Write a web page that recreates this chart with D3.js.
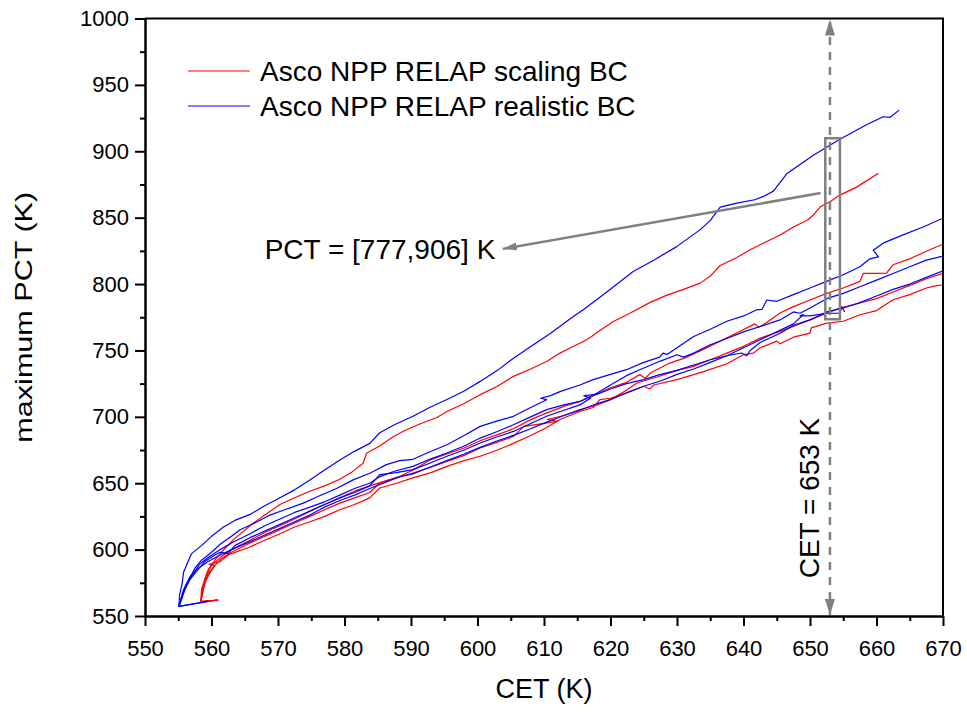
<!DOCTYPE html>
<html>
<head>
<meta charset="utf-8">
<script src="https://cdn.jsdelivr.net/npm/d3@7"></script>
<style>
    body { margin: 0; background: #fff; }
    text { font-family: 'Liberation Sans', Arial, sans-serif; fill: #000; }
</style>
</head>
<body>
<div id="chart"></div>
<script>
'use strict';

// Axis ticks
const xTicks = d3.range(550, 671, 10);
const xMinorTicks = d3.range(555, 670, 10);
const yTicks = d3.range(550, 1001, 50);
const yMinorTicks = d3.range(575, 1000, 50);

const legendLabels = ['Asco NPP RELAP scaling BC', 'Asco NPP RELAP realistic BC'];

// Annotations (data units)
const cetValue = 653;
const pctLabel = 'PCT = [777,906] K';
const pctBox = { x0: 652.3, x1: 654.5, y0: 773.5, y1: 909.8 };
const pctArrow = { from: [651.6, 868.5], to: [603.8, 826.5] };
const pctLabelPos = [568.0, 819];

// Scaling BC runs (red): [CET, max PCT]
const scalingRun1 = [[561,562],[558.4,560.8],[558.5,570],[559,578],[559.5,585],[560.5,592],[561.5,598],[563.3,607.5],[566.3,620],[568,626],[570.3,634],[572.5,639],[574.8,644],[577,648],[579.3,653],[581,658],[582.8,665],[583.3,672.5],[585.3,678],[587.3,685],[589.3,690.3],[591.5,695],[593.9,699.5],[595.4,704],[598,710],[600.4,716.7],[603,723],[605.4,730.5],[608,736],[610.4,741.7],[612.4,748],[614,752],[615.9,756.8],[617,760],[618.4,765],[620.5,772],[622.9,778],[625.9,786],[628.4,791.5],[631,796],[633.5,800.7],[635,806],[636.5,814],[639,820],[641,825.8],[643.5,832],[645.5,837],[647.5,843],[649.7,848.4],[650.5,852],[651.5,858],[653,862],[654.5,867],[657,873],[660.3,883.5]];
const scalingRun2 = [[561,562],[558.4,560.8],[558.6,570],[559.2,580],[560,588],[561.3,594],[563,600],[565.8,607],[568,613],[570.3,618],[572.5,623],[574.8,629],[577,634],[579.3,639],[581.5,644],[583.8,648],[586.3,652],[588.3,655],[590.3,660],[593,667.8],[595.4,672],[598,676.5],[600.4,682],[603,686.6],[605.4,691],[608,697.9],[610.4,703],[613,707.9],[615.4,711.6],[617.5,716],[619.9,721.7],[622.4,726],[624.4,731.8],[625.2,729],[626,733],[628.9,740.5],[631,744],[633.9,750.6],[636.5,757],[639.5,764.4],[641.7,770],[642.3,767.5],[643.5,771],[645.5,778.2],[647.5,783],[650,788],[652.5,793],[655,797],[657.5,802],[658,808],[660,808],[661.5,808.2],[662.5,814.5],[665,819],[668,825.8],[670,830]];
const scalingRun3 = [[561,562],[558.4,560.8],[558.8,572],[559.5,582],[560.5,588],[561.3,592.5],[563,598],[565.8,605],[568,610],[570.3,615],[572.5,620],[574.8,625],[577,630],[579.3,635],[581.5,639],[583.8,643],[585.3,650.2],[587.8,654],[590.3,657.7],[593,662],[595.4,666.5],[598,671],[600.4,676.5],[603,681],[605.4,685.3],[607,692.8],[612,696.6],[610.5,698],[613,701],[615.4,705.4],[618,709],[620,713],[622.4,720],[624,725.5],[627,730],[630,735],[632.5,738],[635,743],[637.5,748],[640,753.1],[642.5,759.3],[645.5,764.4],[647.5,768.1],[650,773],[652.5,778],[654.5,781.9],[657.5,785.7],[660,789],[662.5,794],[665,799],[667.5,804],[670,808]];
const scalingRun4 = [[561,562],[558.4,560.8],[559,575],[559.8,583],[560.5,588],[559.6,589],[561.3,591],[562.5,596],[565.8,602],[568,607],[570.3,612],[572.5,617],[574.8,621],[577,625],[579.3,630],[581.5,634],[583.8,639],[585.3,646.4],[587.8,650],[590.3,654],[593,658],[595.4,662.7],[598,667],[600.4,670.3],[603,675],[605.4,680],[608,686],[610.4,692],[612.4,698],[615.4,704],[617.4,707],[618.4,713],[620,714],[622.4,718],[625,723],[625.9,721],[626.5,724],[630,728],[634,734],[637.5,740],[640,746.8],[641.5,748],[642.5,752],[645,757],[645.5,755],[647.5,760],[650,763.1],[650.2,767],[652.5,770.6],[655,772],[657.5,776.9],[660,780],[662.5,788.2],[665,792],[667.5,797],[668.5,798.2],[670,799.5]];

// Realistic BC runs (blue): [CET, max PCT]
const realisticRun1 = [[559.5,561],[555.1,557.2],[555.2,566],[555.6,575],[555.8,583],[556.3,589],[557,597],[558.5,603],[560,610],[561.8,617],[563.5,622],[565.8,626.5],[568,633],[570.3,639],[572.5,645],[574.8,652.5],[577,660],[579.3,667.5],[581.5,674],[583.8,680],[585.3,688],[587.5,694],[590.3,700.4],[592.8,707],[595.4,713],[598,719.5],[600.4,726.7],[603,735],[605.1,743],[608,753],[611,763],[614,774],[616,781],[618.4,790],[621,800],[623.4,809.5],[626.5,818],[629.9,828],[633.5,841],[635,848],[636.5,858],[639,861],[641.7,863.5],[643,866],[644.5,870],[646.5,883],[648.5,890],[650.5,897],[654.5,909],[658.5,920],[661,926],[662,925.5],[663.4,931]];
const realisticRun2 = [[555.1,557.2],[555.6,566],[556.5,576],[557.5,586],[558.5,592],[560,598],[561.3,604],[563,610],[564.3,615],[566.5,620],[568.8,626],[571,630],[573.8,635],[576,640],[578.8,646],[581.3,652.5],[583.8,657.5],[586.3,664],[588.3,667],[590.3,668],[592.5,673],[595.4,679],[598,686],[600.4,692.8],[603,697],[605.4,700.4],[608,707],[610.4,712.9],[609.5,714],[611,716],[612.4,719],[615.4,724],[617.4,728],[620,732],[622.4,735.5],[625,741],[627.4,745],[627.9,748],[628.5,747],[630,752],[632.5,760.5],[635,766],[637.5,772],[640,776],[642,780.6],[642.8,781],[643.5,788],[645,787],[647.5,792],[650,797],[652.5,802],[655,807],[657.5,813],[659,819],[660.3,820.5],[659.5,825.5],[661,830.8],[664,837],[667,843],[670,849.6]];
const realisticRun3 = [[555.1,557.2],[556,570],[557,580],[558.2,589],[559.5,594],[561.3,600],[563,605],[565.8,612],[568,618],[570.3,623],[572.5,628],[574.8,632],[577,636],[579.3,641],[581.5,646],[583.8,650],[585.3,655],[587.5,659],[590.3,662.7],[592.8,668],[595.4,672.8],[598,678],[600.4,684],[603,689],[605.4,694],[608,700],[610.4,705.4],[613,709],[615.4,711.6],[618,718],[620,724],[622.4,731],[624.4,735.5],[627.5,742],[630,746.8],[631,745],[632.5,748],[635,754.3],[637.5,759],[640,764],[642.5,768],[645.5,773],[647.5,779],[648.5,778],[650,782],[652.5,789],[655,793],[657.5,798],[660,803],[662.5,808],[665,813],[667.5,818],[670,821]];
const realisticRun4 = [[555.1,557.2],[556.2,574],[557.8,584],[559,591],[560.5,596],[561.3,598],[562.5,597],[563.5,603],[565.8,609],[568,614],[570.3,619],[572.5,624],[574.8,629],[577,634],[579.3,639],[581.5,643],[583.8,648],[585.3,656.5],[587.8,658],[590.3,660.2],[592.8,665],[595.4,670.3],[598,675],[600.4,680.3],[603,685],[605.4,689],[608,695],[610.4,700.4],[613,705],[615.4,709],[617,714],[616,716],[618,717],[620,721],[622.4,725],[625,728],[627.4,731.8],[630,735],[632.5,739],[635,743],[637.5,746],[639.7,748.1],[640.5,746],[641,750],[642.5,756],[645.5,763],[647.5,769],[650,773],[652.5,779],[655,782],[657.5,786],[660,791],[662.5,796],[665,800],[667.5,805],[670,810]];
const realisticRun5 = [[559.5,561],[555.1,557.2],[555.8,570],[556.8,580],[558,586],[559.5,591],[561.3,596],[563,600],[565.8,606],[568,611],[570.3,616],[572.5,621],[574.8,626],[577,632],[579.3,637],[581.5,641],[583.8,646],[586.3,651],[588.3,655],[590.3,657],[592.8,662],[595.4,667],[598,672],[600.4,677],[603,682],[605.4,686],[608,691],[610.4,696],[613,701],[615.4,705],[618,710],[620,713],[622.4,718],[625,723],[627.5,727],[630,732],[632.5,736],[635,741],[637.5,746],[640,752],[642.5,758],[645,764],[647.5,770],[649,777],[648.5,776],[650,776],[652.5,778],[654.5,778],[654.8,783],[655.2,779]];

const scalingRuns = [scalingRun1, scalingRun2, scalingRun3, scalingRun4];
const realisticRuns = [realisticRun1, realisticRun2, realisticRun3, realisticRun4, realisticRun5];

const colors = { scaling: '#ff0000', realistic: '#0000ff', note: '#808080' };

const width = 967, height = 713;
const margins = { top: 18.5, right: 24, bottom: 97, left: 145 };

const svg = d3.select('#chart').append('svg')
    .attr('width', width)
    .attr('height', height);

const x = d3.scaleLinear()
    .domain([550, 670])
    .range([margins.left, width - margins.right]);

const y = d3.scaleLinear()
    .domain([550, 1000])
    .range([height - margins.bottom, margins.top]);

const defs = svg.append('defs');

defs.append('clipPath').attr('id', 'plot-clip')
    .append('rect')
    .attr('x', x(550)).attr('y', y(1000))
    .attr('width', x(670) - x(550)).attr('height', y(550) - y(1000));

// Arrow heads for the gray annotations
const addMarker = (id, len, wid) => {
    defs.append('marker')
        .attr('id', id)
        .attr('viewBox', `0 0 ${len} ${wid}`)
        .attr('refX', len).attr('refY', wid / 2)
        .attr('markerUnits', 'userSpaceOnUse')
        .attr('markerWidth', len).attr('markerHeight', wid)
        .attr('orient', 'auto-start-reverse')
        .append('path')
        .attr('d', `M0,0L${len},${wid / 2}L0,${wid}Z`)
        .attr('fill', colors.note);
};
addMarker('arrow-cet', 16, 10);
addMarker('arrow-pct', 14, 8);

// Curves
const line = d3.line()
    .x(d => x(d[0]))
    .y(d => y(d[1]));

const curves = svg.append('g').attr('clip-path', 'url(#plot-clip)');

curves.selectAll('path.scaling')
    .data(scalingRuns)
    .join('path')
    .classed('scaling', true)
    .attr('d', line)
    .attr('fill', 'none')
    .attr('stroke', colors.scaling)
    .attr('stroke-width', 1.2)
    .attr('stroke-linejoin', 'round');

curves.selectAll('path.realistic')
    .data(realisticRuns)
    .join('path')
    .classed('realistic', true)
    .attr('d', line)
    .attr('fill', 'none')
    .attr('stroke', colors.realistic)
    .attr('stroke-width', 1.2)
    .attr('stroke-linejoin', 'round');

// Axes
const styleAxis = g => {
    g.select('.domain').attr('stroke', '#000').attr('stroke-width', 2);
    g.selectAll('.tick line').attr('stroke', '#000').attr('stroke-width', 2);
    g.selectAll('.tick text')
        .style('font-family', "'Liberation Sans', Arial, sans-serif")
        .style('font-size', '22px')
        .attr('fill', '#000');
};

svg.append('g')
    .attr('transform', `translate(0, ${y(550)})`)
    .call(d3.axisBottom(x).tickValues(xMinorTicks).tickSize(5).tickSizeOuter(0).tickFormat(''))
    .call(styleAxis);

svg.append('g')
    .attr('transform', `translate(0, ${y(550)})`)
    .call(d3.axisBottom(x).tickValues(xTicks).tickSize(10).tickSizeOuter(0).tickPadding(14).tickFormat(d3.format('d')))
    .call(styleAxis);

svg.append('g')
    .attr('transform', `translate(${x(550)}, 0)`)
    .call(d3.axisLeft(y).tickValues(yMinorTicks).tickSize(5).tickSizeOuter(0).tickFormat(''))
    .call(styleAxis);

svg.append('g')
    .attr('transform', `translate(${x(550)}, 0)`)
    .call(d3.axisLeft(y).tickValues(yTicks).tickSize(10).tickSizeOuter(0).tickPadding(6).tickFormat(d3.format('d')))
    .call(styleAxis);

// Top and right frame
svg.append('path')
    .attr('d', `M${x(550)},${y(1000)}H${x(670)}V${y(550)}`)
    .attr('fill', 'none')
    .attr('stroke', '#000')
    .attr('stroke-width', 2);

// Axis titles
svg.append('text')
    .attr('x', (x(550) + x(670)) / 2)
    .attr('y', 698)
    .attr('text-anchor', 'middle')
    .style('font-size', '27px')
    .text('CET (K)');

// the y title is drawn narrow and long in the source, so stretch it along its length
svg.append('text')
    .attr('transform', `translate(32, ${(y(550) + y(1000)) / 2}) rotate(-90) scale(1.33, 1)`)
    .attr('text-anchor', 'middle')
    .style('font-size', '23px')
    .text('maximum PCT (K)');

// Legend
const legend = svg.append('g');
const legendItems = legend.selectAll('g')
    .data(legendLabels.map((label, i) => ({ label, color: i === 0 ? colors.scaling : colors.realistic })))
    .join('g')
    .attr('transform', (d, i) => `translate(188, ${71 + i * 35})`);

legendItems.append('line')
    .attr('x1', 0).attr('x2', 62)
    .attr('stroke', d => d.color)
    .attr('stroke-width', 1.2);

legendItems.append('text')
    .attr('x', 72).attr('y', 10)
    .style('font-size', '28px')
    .text(d => d.label);

// CET = 653 K marker
const notes = svg.append('g');

notes.append('line')
    .attr('x1', x(cetValue)).attr('x2', x(cetValue))
    .attr('y1', y(550) - 1).attr('y2', y(1000) + 1)
    .attr('stroke', colors.note)
    .attr('stroke-width', 2.5)
    .attr('stroke-dasharray', '8,7')
    .attr('marker-start', 'url(#arrow-cet)')
    .attr('marker-end', 'url(#arrow-cet)');

notes.append('text')
    .attr('transform', `translate(${x(cetValue) - 11}, ${498}) rotate(-90)`)
    .attr('text-anchor', 'middle')
    .style('font-size', '28px')
    .text(`CET = ${cetValue} K`);

notes.append('rect')
    .attr('x', x(pctBox.x0)).attr('y', y(pctBox.y1))
    .attr('width', x(pctBox.x1) - x(pctBox.x0))
    .attr('height', y(pctBox.y0) - y(pctBox.y1))
    .attr('fill', 'none')
    .attr('stroke', colors.note)
    .attr('stroke-width', 2.5);

notes.append('line')
    .attr('x1', x(pctArrow.from[0])).attr('y1', y(pctArrow.from[1]))
    .attr('x2', x(pctArrow.to[0])).attr('y2', y(pctArrow.to[1]))
    .attr('stroke', colors.note)
    .attr('stroke-width', 2.5)
    .attr('marker-end', 'url(#arrow-pct)');

notes.append('text')
    .attr('x', x(pctLabelPos[0])).attr('y', y(pctLabelPos[1]))
    .style('font-size', '28px')
    .text(pctLabel);
</script>
</body>
</html>
